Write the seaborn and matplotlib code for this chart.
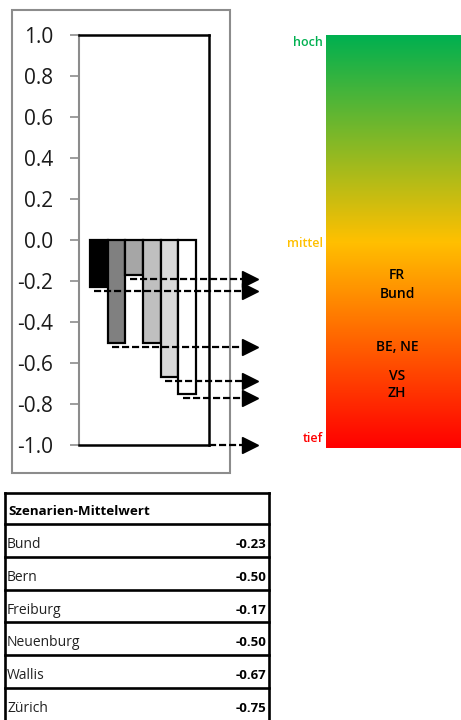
import numpy as np
import pandas as pd
import matplotlib
matplotlib.use("Agg")
import matplotlib.pyplot as plt
from matplotlib.colors import LinearSegmentedColormap
import seaborn as sns

# ---------------- data ----------------
regions = ["Bund", "Bern", "Freiburg", "Neuenburg", "Wallis", "Zürich"]
means = [-0.23, -0.50, -0.17, -0.50, -0.67, -0.75]
bar_colors = ["#000000", "#808080", "#A6A6A6", "#BFBFBF", "#D9D9D9", "#FFFFFF"]
y_ticks = [-1.0, -0.8, -0.6, -0.4, -0.2, 0.0, 0.2, 0.4, 0.6, 0.8, 1.0]
scale_labels = ["hoch", "mittel", "tief"]
scale_values = [0.964, -0.012, -0.952]
scale_colors = ["#00B050", "#FFC000", "#FF0000"]
marker_labels = ["FR", "Bund", "BE, NE", "VS", "ZH"]
marker_values = [-0.162, -0.254, -0.511, -0.651, -0.734]
table_title = "Szenarien-Mittelwert"

# ---------------- setup ----------------
sns.set_theme(style="white")
plt.rcParams["font.family"] = ["Open Sans", "DejaVu Sans"]

W, H = 461, 720
fig = plt.figure(figsize=(W / 100, H / 100), dpi=100)


def fx(px):
    return px / W


def fy(py):
    return 1 - py / H


# overlay (frame + table) in pixel coordinates
bg = fig.add_axes([0, 0, 1, 1], zorder=0)
bg.set_xlim(0, W)
bg.set_ylim(H, 0)
bg.axis("off")

frame_grey = "#8C8C8C"
bg.add_patch(plt.Rectangle((12, 10), 218, 463, fill=False, edgecolor=frame_grey, lw=1.5))

# ---------------- bar chart ----------------
ax = fig.add_axes([fx(79), fy(445), fx(209) - fx(79), fy(35) - fy(445)], zorder=2)
df = pd.DataFrame({"Region": regions, "Wert": means})
sns.barplot(data=df, x="Region", y="Wert", hue="Region", palette=bar_colors,
            saturation=1, width=1, edgecolor="black", linewidth=1.6,
            errorbar=None, legend=False, ax=ax, zorder=3)

unit = 17.7
xmin = -0.5 - 11 / unit
xmax = 5.5 + 13 / unit
ax.set_xlim(xmin, xmax)
ax.set_ylim(-1.0, 1.0)
ax.set_yticks(y_ticks)
ax.set_yticklabels([f"{t:.1f}" for t in y_ticks])
ax.set_xlabel("")
ax.set_ylabel("")
ax.tick_params(axis="x", bottom=False, labelbottom=False)
ax.tick_params(axis="y", left=True, length=6.5, width=1.2, color=frame_grey,
               pad=12, labelsize=15, labelcolor="#1a1a1a")
for s in ["top", "right", "bottom"]:
    ax.spines[s].set_color("black")
    ax.spines[s].set_linewidth(1.8)
ax.spines["left"].set_color(frame_grey)
ax.spines["left"].set_linewidth(1.5)


def ax_to_data(frac):
    return xmin + frac * (xmax - xmin)


x_marker = ax_to_data((250.5 - 79) / 130)
dash = (0, (3.2, 1.3))
seen = set()
for i, v in enumerate(means):
    if v in seen:
        continue
    seen.add(v)
    x0 = i - 0.5 + 0.25
    yv = v - 0.02
    ax.plot([x0, x_marker], [yv, yv], color="black", lw=1.6, ls=dash,
            clip_on=False, zorder=6)
    ax.plot([x_marker], [yv], marker=">", ms=11, color="black",
            clip_on=False, zorder=7)
# arrow for scale minimum
ax.plot([xmax, x_marker], [-1.0, -1.0], color="black", lw=1.6, ls=dash,
        clip_on=False, zorder=6)
ax.plot([x_marker], [-1.0], marker=">", ms=11, color="black",
        clip_on=False, zorder=7)

# ---------------- colour scale ----------------
gax = fig.add_axes([fx(326), fy(448), fx(461) - fx(326), fy(35) - fy(448)], zorder=1)
cmap = LinearSegmentedColormap.from_list(
    "scale", [(0.0, "#FF0000"), (0.5, "#FFC000"), (1.0, "#00B050")])
grad = np.linspace(0, 1, 256).reshape(-1, 1)
gax.imshow(grad, aspect="auto", cmap=cmap, origin="lower", extent=[0, 1, -1, 1])
gax.set_xlim(0, 1)
gax.set_ylim(-1, 1)
gax.axis("off")
for lab, val, col in zip(scale_labels, scale_values, scale_colors):
    gax.text(-0.022, val, lab, color=col, ha="right", va="center",
             fontsize=9, fontweight="semibold", clip_on=False)
for lab, val in zip(marker_labels, marker_values):
    gax.text(0.526, val, lab, color="black", ha="center", va="center",
             fontsize=10, fontweight="semibold")

# ---------------- table ----------------
t_left, t_right = 5, 269
t_top = 493
header_h = 31
row_h = 32.8
lines_y = [t_top, t_top + header_h] + [t_top + header_h + row_h * (k + 1) for k in range(len(regions))]
for yl in lines_y:
    bg.plot([t_left, t_right], [yl, yl], color="black", lw=1.9, solid_capstyle="projecting")
for xl in [t_left, t_right]:
    bg.plot([xl, xl], [t_top, lines_y[-1]], color="black", lw=1.9, solid_capstyle="projecting")

bg.text(8, t_top + header_h / 2 + 3, table_title, ha="left", va="center",
        fontsize=9.6, fontweight="bold", color="black")
for k, (r, v) in enumerate(zip(regions, means)):
    yc = t_top + header_h + row_h * k + row_h / 2 + 4
    bg.text(7, yc, r, ha="left", va="center", fontsize=10, color="#222222")
    bg.text(266, yc, f"{v:.2f}", ha="right", va="center", fontsize=9.5,
            fontweight="bold", color="black")

fig.savefig("out.png", dpi=100)
